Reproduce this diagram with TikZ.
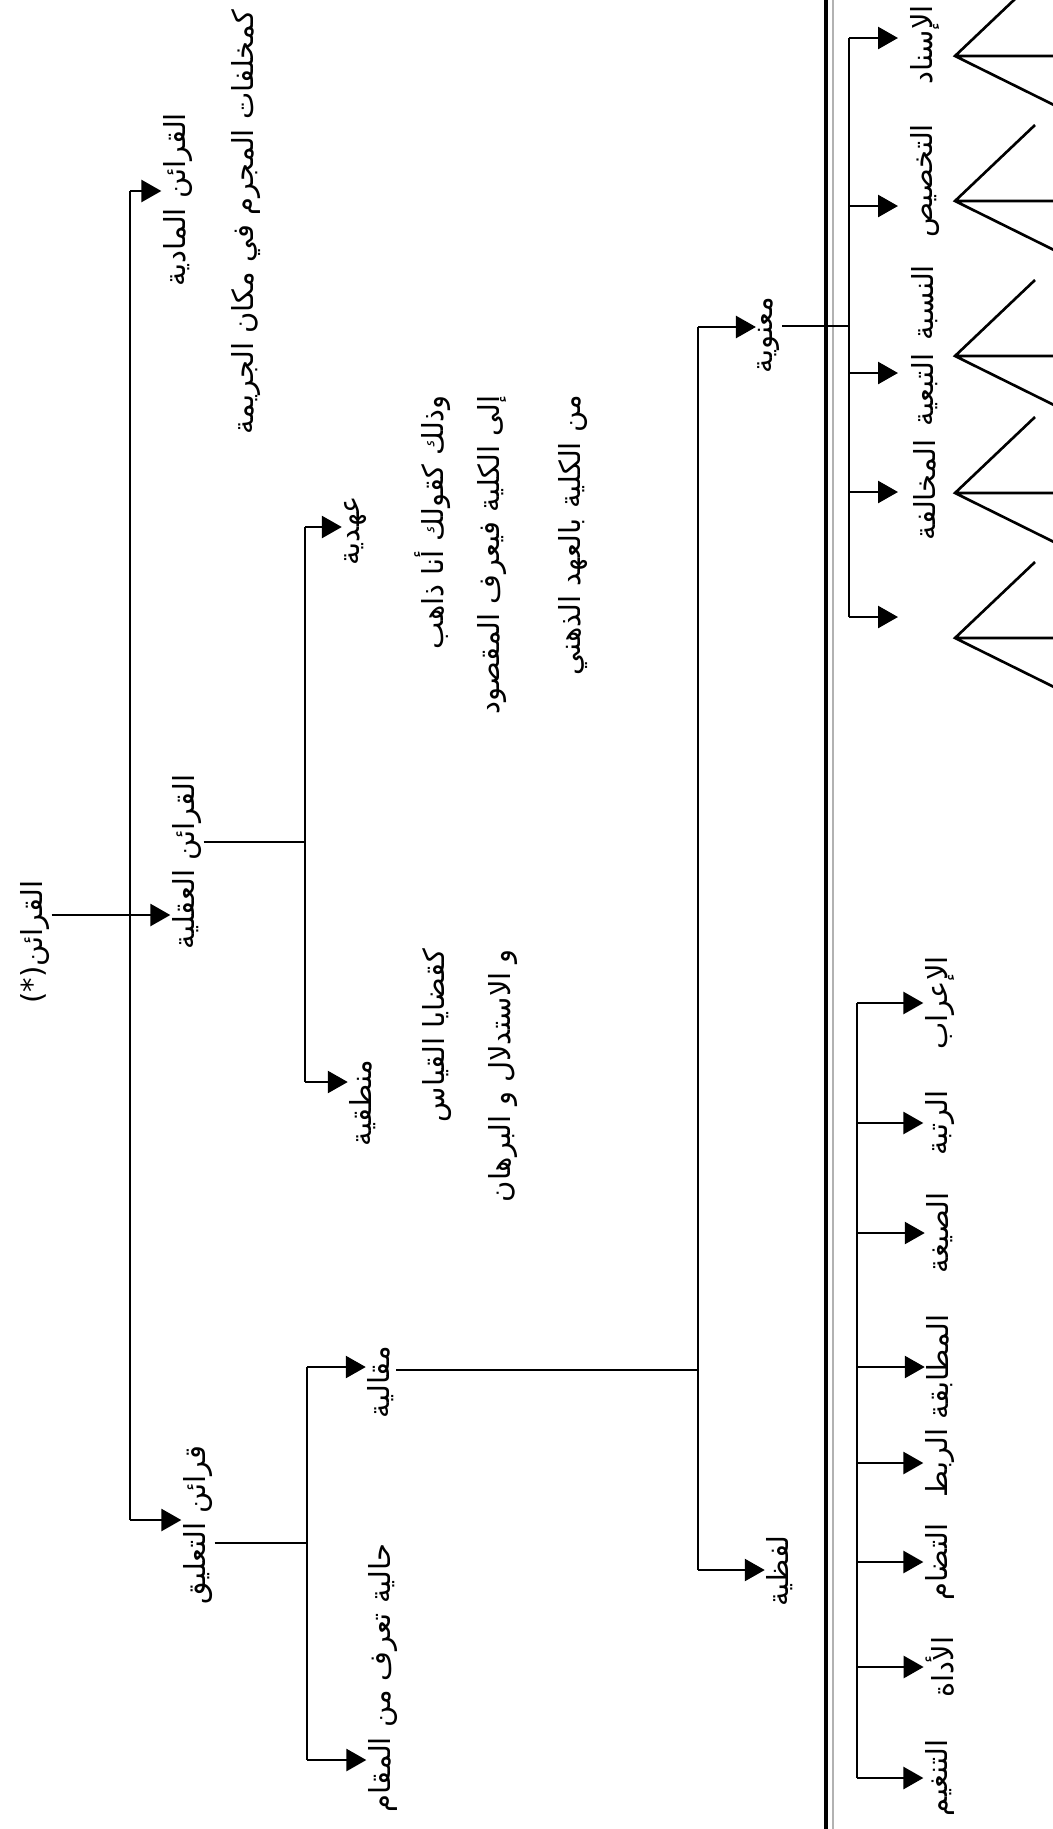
\documentclass[tikz,border=0pt]{standalone}
\usepackage{fontspec}
\newfontfamily\arabicfont[Script=Arabic]{DejaVu Sans}
\TeXXeTstate=1
\usetikzlibrary{arrows.meta}
\newcommand{\arb}[1]{\beginR #1\endR}

\begin{document}
\begin{tikzpicture}[x=0.02cm,y=-0.02cm,
	lbl/.style={font=\arabicfont\fontsize{16.5}{20}\selectfont,rotate=90,inner sep=1pt},
	note/.style={lbl,align=right,font=\arabicfont\fontsize{16.5}{32}\selectfont},
	ln/.style={line width=1.5pt},
	arr/.style={ln,-{Triangle[length=4mm,width=4.4mm]}}]
	\useasboundingbox (0,0) rectangle (1053,1829);
	\clip (0,0) rectangle (1053,1829);
	% les etiquettes
	\node[lbl] (root) at (35,942) {(*)\arb{القرائن}};
	\node[lbl] (madia) at (178,200) {\arb{القرائن المادية}};
	\node[lbl] (aqlia) at (187,862) {\arb{القرائن العقلية}};
	\node[lbl] (taaliq) at (198,1525) {\arb{قرائن التعليق}};
	\node[lbl,anchor=north east] (mithal) at (229,8) {\arb{كمخلفات المجرم في مكان الجريمة}};
	\node[lbl] (ahdia) at (355,531) {\arb{عهدية}};
	\node[lbl] (mantiq) at (363,1103) {\arb{منطقية}};
	\node[note,anchor=north east] (ahdnote) at (412,393) {\arb{وذلك كقولك أنا ذاهب}\\\arb{إلى الكلية فيعرف المقصود}\\[14pt]\arb{من الكلية بالعهد الذهني}};
	\node[note,anchor=north east,font=\arabicfont\fontsize{16.5}{38}\selectfont] (mantnote) at (420,947) {\arb{كقضايا القياس}\\\arb{و الاستدلال و البرهان}};
	\node[lbl] (maqal) at (381,1382) {\arb{مقالية}};
	\node[lbl] (hal) at (383,1678) {\arb{حالية تعرف من المقام}};
	\node[lbl] (manaw) at (769,335) {\arb{معنوية}};
	\node[lbl] (lafz) at (780,1571) {\arb{لفظية}};
	% le tronc
	\coordinate (t1) at (130,191);
	\coordinate (t2) at (130,915);
	\coordinate (t3) at (130,1520);
	\draw[ln] (t1) -- (t3);
	\draw[arr] (t1) -- (t1 -| madia.north);
	\draw[arr] (t2 -| root.south) -- (t2 -| aqlia.north);
	\draw[arr] (t3) -- (t3 -| taaliq.north);
	% les branches
	\coordinate (a0) at (305,842);
	\coordinate (a1) at (305,527);
	\coordinate (a2) at (305,1082);
	\draw[ln] (a0 -| aqlia.south) -- (a0);
	\draw[ln] (a1) -- (a2);
	\draw[arr] (a1) -- (a1 -| ahdia.north);
	\draw[arr] (a2) -- (a2 -| mantiq.north);
	\coordinate (b0) at (307,1543);
	\coordinate (b1) at (307,1367);
	\coordinate (b2) at (307,1760);
	\draw[ln] (b0 -| taaliq.south) -- (b0);
	\draw[ln] (b1) -- (b2);
	\draw[arr] (b1) -- (b1 -| maqal.north);
	\draw[arr] (b2) -- (b2 -| hal.north);
	\coordinate (c0) at (698,1370);
	\coordinate (c1) at (698,327);
	\coordinate (c2) at (698,1570);
	\draw[ln] (c0 -| maqal.south) -- (c0);
	\draw[ln] (c1) -- (c2);
	\draw[arr] (c1) -- (c1 -| manaw.north);
	\draw[arr] (c2) -- (c2 -| lafz.north);
	% le double trait
	\draw[line width=2.8pt] (826,0) -- (826,1829);
	\draw[gray!60,line width=0.8pt] (833,0) -- (833,1829);
	% les qrainat maanawiya
	\coordinate (d0) at (849,326);
	\coordinate (d1) at (849,38);
	\coordinate (d2) at (849,617);
	\draw[ln] (d0 -| manaw.south) -- (d0);
	\draw[ln] (d1) -- (d2);
	\foreach \y [count=\i] in {38,206,373,492,617} {
		\coordinate (m\i) at (898,\y);
		\draw[arr] (d0 |- m\i) -- (m\i);
	}
	\foreach \t/\y [count=\i] in {الإسناد/45,التخصيص/181,النسبة/303,التبعية/390,المخالفة/490}
		\node[lbl] (n\i) at (925,\y) {\arb{\t}};
	\foreach \y in {56,201,356,493,638}
		\draw[ln] (1035,\y-76) -- (955,\y) -- (1060,\y+52) (955,\y) -- (1060,\y);
	% les qrainat lafziya
	\coordinate (e1) at (857,1003);
	\coordinate (e2) at (857,1778);
	\draw[ln] (e1) -- (e2);
	\foreach \t/\y [count=\i] in {الإعراب/1003,الرتبة/1123,الصيغة/1233,المطابقة/1367,الربط/1463,التضام/1562,الأداة/1667,التنغيم/1778} {
		\node[lbl] (g\i) at (940,\y) {\arb{\t}};
		\draw[arr] (e1 |- g\i) -- (g\i.north);
	}
\end{tikzpicture}
\end{document}
